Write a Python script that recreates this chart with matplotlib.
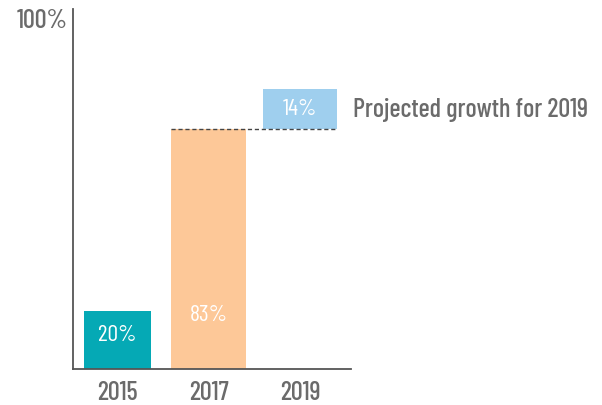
import matplotlib.pyplot as plt

# data
years = ['2015', '2017', '2019']
values = [20, 83, 14]
bases = [0, 0, 83]
labels = ['20%', '83%', '14%']
colors = ['#05a9b5', '#fdc898', '#9fcfee']
widths = [0.74, 0.82, 0.82]

plt.rcParams['font.family'] = ['Barlow Condensed', 'Roboto Condensed', 'DejaVu Sans']
grey = '#6b6b6b'

fig = plt.figure(figsize=(6.02, 4.06), dpi=100)
ax = fig.add_axes([73 / 602, 36 / 406, 278 / 602, 360 / 406])

x = list(range(len(years)))
ax.bar(x, values, bottom=bases, width=widths, color=colors)

# 83% label sits low in the bar, others centred
label_y = [bases[0] + values[0] / 2 + 2, 19, bases[2] + values[2] / 2]
for i in x:
    ax.text(i, label_y[i], labels[i], ha='center', va='center',
            color='white', fontsize=17)

# dashed line at the 2017 level
ax.plot([1 - widths[1] / 2, 2 + widths[2] / 2], [values[1], values[1]],
        color='#444444', linestyle=(0, (3, 2)), linewidth=1)

ax.text(2.58, bases[2] + values[2] / 2, 'Projected growth for 2019',
        ha='left', va='center', color=grey, fontsize=19, weight='medium',
        clip_on=False)
fig.text(68 / 602, 385 / 406, '100%', ha='right', va='center',
         color=grey, fontsize=19, weight='medium')

ax.set_xlim(-0.49, 2.56)
ax.set_ylim(0, 124.5)
ax.set_xticks(x)
ax.set_xticklabels(years, fontsize=19, color=grey, weight='medium')
ax.tick_params(axis='x', length=0, pad=8)
ax.set_yticks([])
for s in ['top', 'right']:
    ax.spines[s].set_visible(False)
for s in ['left', 'bottom']:
    ax.spines[s].set_color('#555555')
    ax.spines[s].set_linewidth(1.3)

fig.savefig('out.png', dpi=100)
